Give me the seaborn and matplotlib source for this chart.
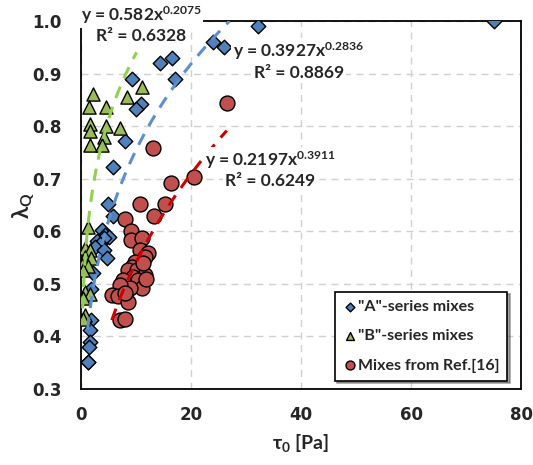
import numpy as np
import pandas as pd
import matplotlib
matplotlib.use("Agg")
import matplotlib.pyplot as plt
import seaborn as sns

# "A"-series mixes
tau_a = [75.1, 32.2, 24.0, 26.0, 16.5, 14.4, 17.0, 9.3, 10.9, 10.0, 8.0, 5.9, 4.9, 5.9,
         3.8, 4.4, 5.0, 4.2, 2.9, 3.5, 2.6, 4.1, 4.7, 2.2, 1.9, 1.8, 1.7, 1.6, 1.5, 1.3, 1.2]
lam_a = [1.00, 0.99, 0.96, 0.95, 0.93, 0.92, 0.89, 0.89, 0.843, 0.832, 0.772, 0.723, 0.651, 0.630,
         0.602, 0.593, 0.590, 0.587, 0.582, 0.576, 0.570, 0.564, 0.550, 0.520, 0.490, 0.431, 0.412, 0.390, 0.380, 0.352, 0.351]

# "B"-series mixes
tau_b = [2.1, 1.5, 4.6, 8.3, 11.1, 1.6, 1.6, 4.6, 7.1, 4.2, 1.6, 3.8,
         1.3, 0.7, 1.6, 0.7, 1.8, 0.1, 1.3, 0.4, 0.7, 1.6, 0.4, 0.7, 0.4]
lam_b = [0.861, 0.836, 0.836, 0.856, 0.875, 0.804, 0.790, 0.800, 0.797, 0.780, 0.764, 0.764,
         0.609, 0.568, 0.564, 0.552, 0.550, 0.536, 0.534, 0.526, 0.485, 0.481, 0.473, 0.441, 0.434]

# Mixes from Ref.[16]
tau_r = [26.5, 13.0, 16.3, 20.5, 10.7, 15.3, 13.2, 8.0, 9.0, 9.0, 11.0, 10.7, 12.2, 11.6, 9.8,
         9.2, 8.6, 10.1, 11.6, 9.5, 7.7, 10.4, 11.0, 8.9, 7.1, 5.6, 6.8, 8.6, 8.0, 7.1, 8.0, 11.3, 11.9]
lam_r = [0.845, 0.758, 0.692, 0.704, 0.652, 0.652, 0.630, 0.623, 0.601, 0.583, 0.587, 0.564, 0.558, 0.552, 0.542,
         0.533, 0.526, 0.526, 0.517, 0.514, 0.507, 0.507, 0.492, 0.492, 0.498, 0.479, 0.476, 0.466, 0.482, 0.431, 0.434, 0.539, 0.510]

# power-law trendlines: (coef, exponent, R2, x range)
fit_a = (0.3927, 0.2836, 0.8869, 1.2, 27.0)
fit_b = (0.582, 0.2075, 0.6328, 0.3, 10.1)
fit_r = (0.2197, 0.3911, 0.6249, 5.6, 26.5)

df = pd.concat([
    pd.DataFrame({"tau": tau_a, "lam": lam_a, "group": '"A"-series mixes'}),
    pd.DataFrame({"tau": tau_b, "lam": lam_b, "group": '"B"-series mixes'}),
    pd.DataFrame({"tau": tau_r, "lam": lam_r, "group": "Mixes from Ref.[16]"}),
])

sns.set_style("white")
plt.rcParams["font.family"] = ["Lato", "DejaVu Sans"]
plt.rcParams["font.weight"] = "bold"
plt.rcParams["mathtext.fontset"] = "custom"
plt.rcParams["mathtext.rm"] = "Lato:bold"
plt.rcParams["mathtext.it"] = "Lato:bold"
plt.rcParams["mathtext.bf"] = "Lato:bold"

fig = plt.figure(figsize=(5.33, 4.65), dpi=100)
ax = fig.add_axes([0.152, 0.1634, 0.8255, 0.7914])

blue, green, red = "#4F81BD", "#9BBB59", "#C0504D"
styles = [('"A"-series mixes', "D", blue, 55),
          ('"B"-series mixes', "^", green, 90),
          ("Mixes from Ref.[16]", "o", red, 115)]
for name, mk, col, size in styles:
    sns.scatterplot(data=df[df.group == name], x="tau", y="lam", marker=mk, color=col,
                    s=size, edgecolor="black", linewidth=1.0, label=name, ax=ax, zorder=3)

for (c, p, r2, x0, x1), lc in [(fit_a, "#5B8FD0"), (fit_b, "#92D050"), (fit_r, "#D00000")]:
    xs = np.linspace(x0, x1, 100)
    ax.plot(xs, c * xs ** p, ls=(0, (4, 3)), color=lc, lw=2.2, zorder=4)

box = dict(facecolor="white", edgecolor="none", pad=1.5)
labels = [(10.9, 1.011, 0.971, fit_b), (39.6, 0.943, 0.901, fit_a), (34.4, 0.736, 0.696, fit_r)]
for xc, y1, y2, (c, p, r2, x0, x1) in labels:
    ax.text(xc, y1, "y = %sx$^{%s}$" % (c, p), ha="center", va="center", fontsize=12.5,
            fontweight="bold", bbox=box, zorder=5, clip_on=False)
    ax.text(xc, y2, "R² = %s" % r2, ha="center", va="center", fontsize=12.5,
            fontweight="bold", bbox=box, zorder=5, clip_on=False)

ax.set_xlim(0, 80)
ax.set_ylim(0.3, 1.0)
ax.set_xticks([0, 20, 40, 60, 80])
ax.set_yticks(np.arange(0.3, 1.01, 0.1))
ax.yaxis.set_major_formatter(matplotlib.ticker.FormatStrFormatter("%.1f"))
ax.tick_params(axis="y", direction="inout", length=12, width=1.2, labelsize=12, pad=8)
ax.tick_params(axis="x", direction="inout", length=8, width=1.2, labelsize=12, pad=8)
for lab in ax.get_xticklabels() + ax.get_yticklabels():
    lab.set_fontweight("bold")
    lab.set_fontfamily("DejaVu Sans")
ax.grid(True, ls=(0, (5, 4)), color="#D0D0D0", lw=1)
for sp in ax.spines.values():
    sp.set_color("black")
    sp.set_linewidth(1.3)

ax.set_xlabel("τ$_0$ [Pa]", fontsize=14, fontweight="bold", labelpad=6)
ax.set_ylabel("λ$_Q$", fontsize=16, fontweight="bold")
ax.yaxis.set_label_coords(-0.1, 0.5)

leg = ax.legend(loc="lower right", bbox_to_anchor=(0.98, 0.01), frameon=True, fancybox=False,
                shadow=True, edgecolor="black", fontsize=11.5, markerscale=0.6,
                handletextpad=0.05, borderpad=0.5, labelspacing=0.95, handlelength=0.9,
                borderaxespad=0.3)
leg.get_frame().set_linewidth(1.2)
for t in leg.get_texts():
    t.set_fontweight("bold")

fig.savefig("out.png", dpi=100)
